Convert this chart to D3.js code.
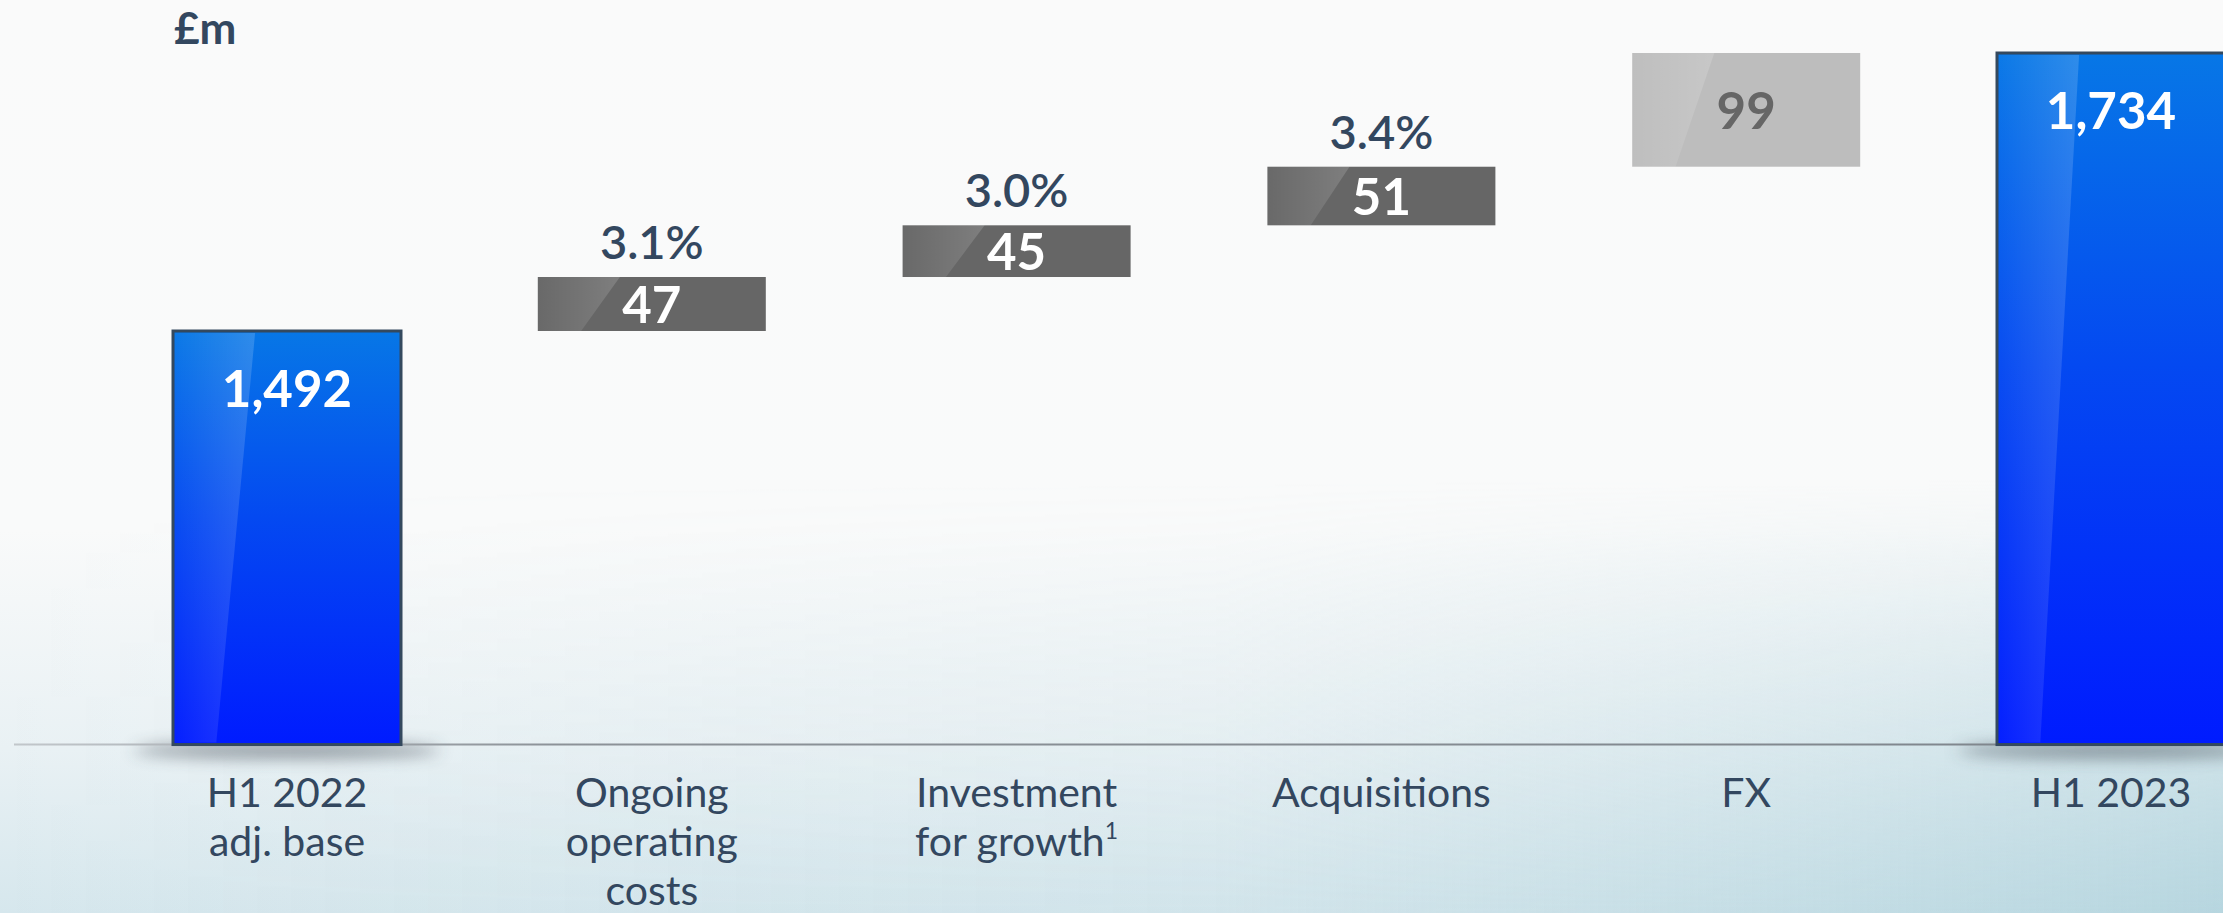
<!DOCTYPE html>
<html lang="en">
<head>
    <meta charset="UTF-8">
    <title>Cost bridge H1 2022 to H1 2023</title>
    <script src="https://d3js.org/d3.v7.min.js"></script>
    <style>
        html, body {
            margin: 0;
            padding: 0;
            background: #fafafa;
        }
        svg {
            display: block;
            font-family: Lato, sans-serif;
        }
    </style>
</head>
<body>
    <svg width="2223" height="913"></svg>

    <script>
        // chart data
        const categories = ["H1 2022 adj. base", "Ongoing operating costs", "Investment for growth", "Acquisitions", "FX", "H1 2023"];
        const labelLines = [["H1 2022", "adj. base"], ["Ongoing", "operating", "costs"], ["Investment", "for growth"], ["Acquisitions"], ["FX"], ["H1 2023"]];
        const footnotes = ["", "", "1", "", "", ""];
        const values = [1492, 47, 45, 51, 99, 1734];
        const barKinds = ["total", "step", "step", "step", "fx", "total"];
        const pctLabels = ["", "3.1%", "3.0%", "3.4%", "", ""];
        const unitLabel = "£m";
        const axisFloor = 1132;   // chart does not start at zero

        const W = 2223, H = 913;
        const svg = d3.select("svg");
        const defs = svg.append("defs");

        // background: white fading to pale blue at the bottom, bluer to the right
        const bg = defs.append("linearGradient").attr("id", "bgGrad")
            .attr("x1", 0).attr("y1", 0).attr("x2", 0).attr("y2", 1);
        bg.append("stop").attr("offset", "0%").attr("stop-color", "#fafafa");
        bg.append("stop").attr("offset", "58%").attr("stop-color", "#f9fafa");
        bg.append("stop").attr("offset", "82%").attr("stop-color", "#e9f1f4");
        bg.append("stop").attr("offset", "100%").attr("stop-color", "#d6e7ed");

        const bgSide = defs.append("linearGradient").attr("id", "bgSide")
            .attr("x1", 0).attr("y1", 0).attr("x2", 1).attr("y2", 0);
        bgSide.append("stop").attr("offset", "0%").attr("stop-color", "#b4d4dd").attr("stop-opacity", 0);
        bgSide.append("stop").attr("offset", "55%").attr("stop-color", "#b4d4dd").attr("stop-opacity", 0.14);
        bgSide.append("stop").attr("offset", "100%").attr("stop-color", "#a6cdd8").attr("stop-opacity", 0.65);

        const fade = defs.append("linearGradient").attr("id", "fade")
            .attr("x1", 0).attr("y1", 0).attr("x2", 0).attr("y2", 1);
        fade.append("stop").attr("offset", "0%").attr("stop-color", "#000");
        fade.append("stop").attr("offset", "100%").attr("stop-color", "#fff");
        defs.append("mask").attr("id", "fadeMask")
            .attr("maskUnits", "userSpaceOnUse")
            .attr("x", 0).attr("y", 0).attr("width", W).attr("height", H)
            .append("rect").attr("y", 480).attr("width", W).attr("height", H - 480).attr("fill", "url(#fade)");

        const blue = defs.append("linearGradient").attr("id", "blueGrad")
            .attr("x1", 0).attr("y1", 0).attr("x2", 0).attr("y2", 1);
        blue.append("stop").attr("offset", "0%").attr("stop-color", "#0777e6");
        blue.append("stop").attr("offset", "45%").attr("stop-color", "#0449f1");
        blue.append("stop").attr("offset", "100%").attr("stop-color", "#001bff");

        const gloss = defs.append("linearGradient").attr("id", "gloss")
            .attr("x1", 0).attr("y1", 0).attr("x2", 1).attr("y2", 0);
        gloss.append("stop").attr("offset", "0%").attr("stop-color", "#fff").attr("stop-opacity", 0.02);
        gloss.append("stop").attr("offset", "100%").attr("stop-color", "#fff").attr("stop-opacity", 0.16);

        const lineGrad = defs.append("linearGradient").attr("id", "lineGrad")
            .attr("gradientUnits", "userSpaceOnUse")
            .attr("x1", 0).attr("y1", 0).attr("x2", W).attr("y2", 0);
        lineGrad.append("stop").attr("offset", "0%").attr("stop-color", "#c3c8cc");
        lineGrad.append("stop").attr("offset", "25%").attr("stop-color", "#8c9298");
        lineGrad.append("stop").attr("offset", "100%").attr("stop-color", "#7e858c");

        defs.append("filter").attr("id", "blur")
            .attr("x", "-50%").attr("y", "-200%").attr("width", "200%").attr("height", "500%")
            .append("feGaussianBlur").attr("stdDeviation", 8);

        svg.append("rect").attr("width", W).attr("height", H).attr("fill", "url(#bgGrad)");
        svg.append("rect").attr("width", W).attr("height", H).attr("fill", "url(#bgSide)")
            .attr("mask", "url(#fadeMask)");

        // waterfall geometry
        let running = 0;
        const bars = values.map(function (v, i) {
            let lo, hi;
            if (barKinds[i] === "total") {
                lo = axisFloor; hi = v; running = v;
            } else {
                lo = running; hi = running + v; running = hi;
            }
            return { cat: categories[i], value: v, kind: barKinds[i], lo: lo, hi: hi, pct: pctLabels[i], lines: labelLines[i], note: footnotes[i] };
        });

        const x = d3.scaleBand()
            .domain(categories)
            .range([173, 2225])
            .paddingInner(0.375)
            .paddingOuter(0);

        const y = d3.scaleLinear()
            .domain([1492, 1734])
            .range([331, 53]);

        const textColor = "#33475f";
        const baseY = y(axisFloor);

        // shadows under the total bars
        svg.append("g").selectAll("ellipse")
            .data(bars.filter(function (d) { return d.kind === "total"; }))
            .enter().append("ellipse")
            .attr("cx", function (d) { return x(d.cat) + x.bandwidth() / 2; })
            .attr("cy", baseY + 6)
            .attr("rx", x.bandwidth() / 2 + 40)
            .attr("ry", 8)
            .attr("fill", "#3b4550")
            .attr("opacity", 0.5)
            .attr("filter", "url(#blur)");

        // base line
        svg.append("line")
            .attr("x1", 14).attr("x2", W)
            .attr("y1", baseY).attr("y2", baseY)
            .attr("stroke", "url(#lineGrad)").attr("stroke-width", 2);

        const g = svg.append("g").selectAll("g")
            .data(bars)
            .enter().append("g");

        g.append("rect")
            .attr("x", function (d) { return x(d.cat); })
            .attr("y", function (d) { return y(d.hi); })
            .attr("width", x.bandwidth())
            .attr("height", function (d) { return y(d.lo) - y(d.hi); })
            .attr("fill", function (d) {
                if (d.kind === "total") return "url(#blueGrad)";
                if (d.kind === "fx") return "#bdbdbd";
                return "#666666";
            })
            .attr("stroke", function (d) { return d.kind === "total" ? "#34495e" : "none"; })
            .attr("stroke-width", 3);

        // slanted gloss strip on the left of every bar
        g.append("path")
            .attr("d", function (d) {
                const x0 = x(d.cat), w = x.bandwidth();
                const inset = d.kind === "total" ? 2 : 0;
                const t = y(d.hi) + inset, b = y(d.lo) - inset;
                return "M" + (x0 + inset) + "," + t + "L" + (x0 + 0.36 * w) + "," + t +
                    "L" + (x0 + 0.19 * w) + "," + b + "L" + (x0 + inset) + "," + b + "Z";
            })
            .attr("fill", "url(#gloss)");

        // value labels
        g.append("text")
            .attr("x", function (d) { return x(d.cat) + x.bandwidth() / 2; })
            .attr("y", function (d) {
                if (d.kind === "total") return y(d.hi) + 76;
                return (y(d.hi) + y(d.lo)) / 2 + 19;
            })
            .attr("text-anchor", "middle")
            .attr("font-size", 51)
            .attr("font-weight", 700)
            .attr("fill", function (d) { return d.kind === "fx" ? "#666666" : "#ffffff"; })
            .text(function (d) { return d3.format(",")(d.value); });

        // percentage labels above the steps
        g.filter(function (d) { return d.pct !== ""; })
            .append("text")
            .attr("x", function (d) { return x(d.cat) + x.bandwidth() / 2; })
            .attr("y", function (d) { return y(d.hi) - 18; })
            .attr("text-anchor", "middle")
            .attr("font-size", 47)
            .attr("font-weight", 600)
            .attr("fill", textColor)
            .text(function (d) { return d.pct; });

        // category labels
        const cat = g.append("text")
            .attr("text-anchor", "middle")
            .attr("font-size", 41)
            .attr("fill", textColor)
            .attr("transform", function (d) { return "translate(" + (x(d.cat) + x.bandwidth() / 2) + ",807)"; });

        cat.each(function (d) {
            const t = d3.select(this);
            d.lines.forEach(function (line, i) {
                t.append("tspan")
                    .attr("x", 0)
                    .attr("y", i * 49)
                    .text(line);
                if (i === d.lines.length - 1 && d.note) {
                    t.append("tspan")
                        .attr("dy", -17)
                        .attr("font-size", 23)
                        .text(d.note);
                }
            });
        });

        // unit label
        svg.append("text")
            .attr("x", 174).attr("y", 44)
            .attr("font-size", 44)
            .attr("font-weight", 700)
            .attr("fill", textColor)
            .text(unitLabel);
    </script>
</body>
</html>
